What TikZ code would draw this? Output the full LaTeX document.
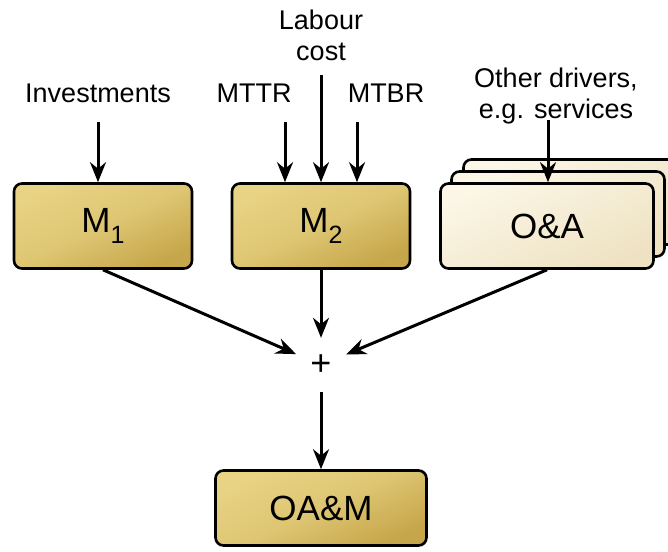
\documentclass[tikz,border=0pt]{standalone}
\usepackage{fontspec}
\setmainfont{Liberation Sans}
\usetikzlibrary{arrows.meta,calc,positioning}
\definecolor{CostGold}{RGB}{198,166,74}
\definecolor{CostGoldLight}{RGB}{232,211,132}
\definecolor{CostCream}{RGB}{238,226,194}
\definecolor{CostCreamLight}{RGB}{251,246,230}
\newcommand{\subidx}[1]{\raisebox{-0.3em}{\fontsize{25}{25}\selectfont #1}}

\begin{document}
\begin{tikzpicture}[x=1pt, y=-1pt,
    lbl/.style={font=\fontsize{27}{31}\selectfont, inner sep=0pt},
    box/.style={draw, line width=2.6pt, rounded corners=8pt, minimum width=178pt, minimum height=85pt, font=\fontsize{35}{40}\selectfont},
    gold/.style={box, top color=CostGoldLight, bottom color=CostGold, middle color=CostGoldLight!70!CostGold, shading angle=25},
    cream/.style={box, top color=CostCreamLight, bottom color=CostCream, shading angle=25, minimum width=213pt},
    feed/.style={-{Stealth[length=20pt, width=16pt]}, line width=3pt}]
    \useasboundingbox (0,0) rectangle (668,551);
    \clip (0,0) rectangle (668,551);

    % inputs
    \node[lbl] (inv) at (98,93) {Investments};
    \node[lbl] (mttr) at (254,93) {MTTR};
    \node[lbl] (mtbr) at (386,93) {MTBR};
    \node[lbl, align=center] (lab) at (321,35) {Labour\\cost};
    \node[lbl, align=center] (oth) at (556,96) {Other drivers,\\e.g. services};

    % models
    \node[gold] (m1) at (103,226) {M\subidx{1}};
    \node[gold] (m2) at (321,226) {M\subidx{2}};
    \node[cream] (oaback) at (570,202) {};
    \node[cream] (oamid) at (558,214) {};
    \node[cream] (oa) at (547,226) {O\&A};
    \node[gold, minimum width=211pt, minimum height=75pt] (oam) at (321,508) {OA\&M};
    \node[circle, minimum size=54pt, inner sep=0pt, font=\fontsize{36}{40}\selectfont] (sum) at (321,365) {+};

    \coordinate (invin) at (98,122);
    \coordinate (mttrin) at (285,122);
    \coordinate (labin) at (321,75);
    \coordinate (mtbrin) at (357,122);
    \coordinate (othin) at (548,120);

    \draw[feed] (invin) -- (invin |- m1.north);
    \draw[feed] (mttrin) -- (mttrin |- m2.north);
    \draw[feed] (labin) -- (labin |- m2.north);
    \draw[feed] (mtbrin) -- (mtbrin |- m2.north);
    \draw[feed] (othin) -- (othin |- oa.north);

    \draw[feed] (m1.south) -- (sum);
    \draw[feed] (m2) -- (sum);
    \draw[feed] (oa.south) -- (sum);
    \draw[feed] (sum) -- (oam);
\end{tikzpicture}
\end{document}
